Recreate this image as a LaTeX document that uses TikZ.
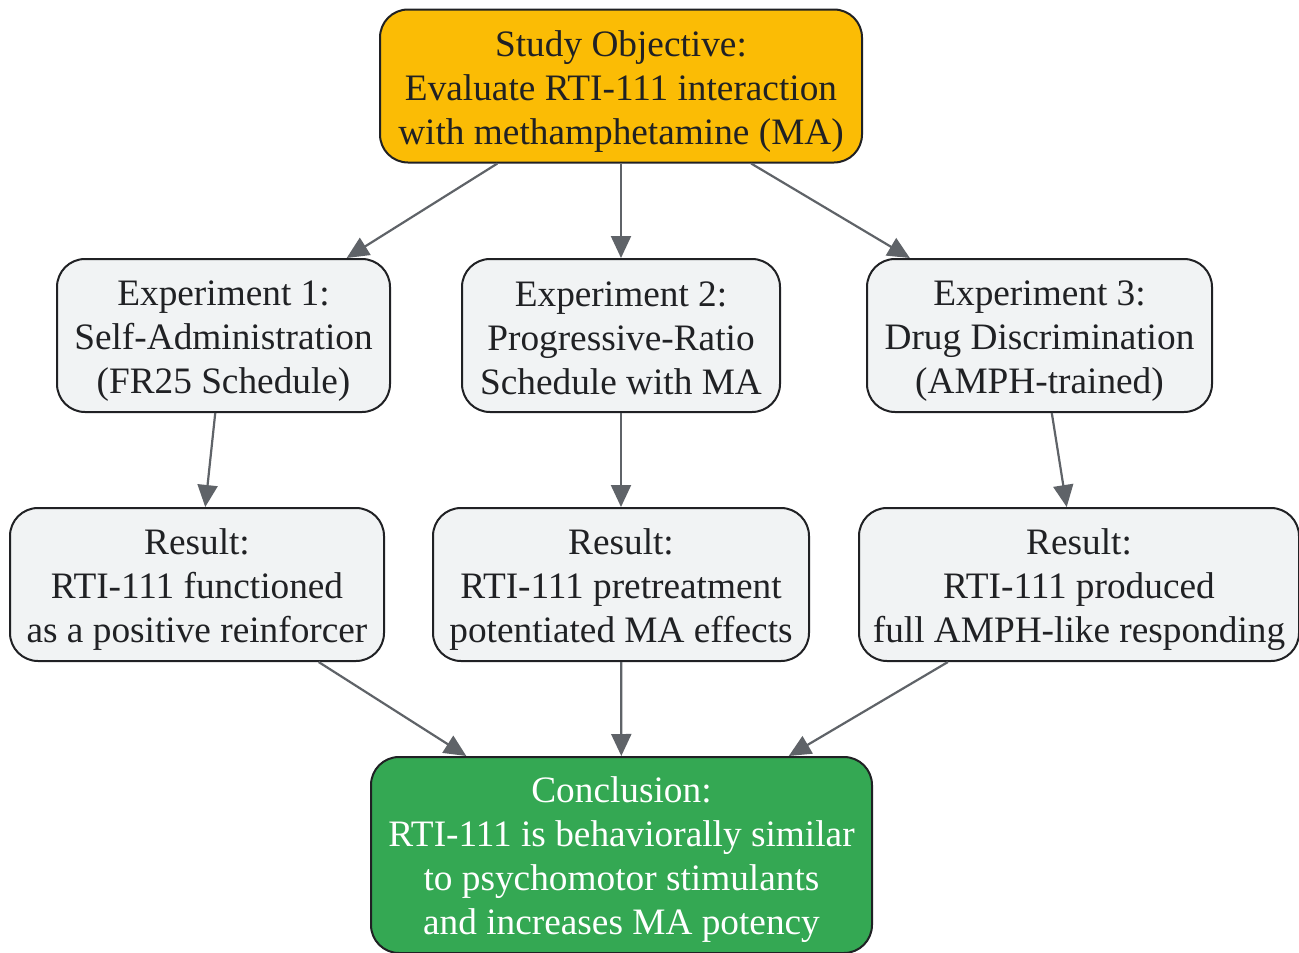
\documentclass[tikz,border=0pt]{standalone}
\usepackage{fontspec}
\setmainfont{Liberation Serif}
\usetikzlibrary{arrows.meta}
\definecolor{amber}{HTML}{FBBC05}
\definecolor{gbox}{HTML}{F1F3F4}
\definecolor{gline}{HTML}{202124}
\definecolor{arr}{HTML}{5F6368}
\definecolor{grn}{HTML}{34A853}
\newcommand\mytop{\rule{0pt}{36pt}}
\newcommand\mybot{\rule[-7pt]{0pt}{7pt}}
\tikzset{
  box/.style={draw=gline, line width=2pt, rounded corners=28pt, fill=gbox, text=gline,
    align=center, inner sep=0pt, font=\fontsize{37.3}{44}\selectfont},
  conn/.style={draw=arr, line width=2.2pt, -{Triangle[length=22pt,width=20pt]}}
}
\begin{document}
\begin{tikzpicture}[x=1pt,y=1pt]
\useasboundingbox (0,0) rectangle (1299,-953);
\node[box, fill=amber, minimum width=482, minimum height=153] (obj) at (621,-86)
  {\mytop Study Objective:\\Evaluate RTI-111 interaction\\with methamphetamine (MA)\mybot};
\node[box, minimum width=333, minimum height=153] (e1) at (223.5,-335.5)
  {\mytop Experiment 1:\\Self-Administration\\(FR25 Schedule)\mybot};
\node[box, minimum width=318, minimum height=153] (e2) at (621,-335.5)
  {\mytop Experiment 2:\\Progressive-Ratio\\Schedule with MA\mybot};
\node[box, minimum width=345, minimum height=153] (e3) at (1039.5,-335.5)
  {\mytop Experiment 3:\\Drug Discrimination\\(AMPH-trained)\mybot};
\node[box, minimum width=374, minimum height=153] (r1) at (197,-584.5)
  {\mytop Result:\\RTI-111 functioned\\as a positive reinforcer\mybot};
\node[box, minimum width=376, minimum height=153] (r2) at (621,-584.5)
  {\mytop Result:\\RTI-111 pretreatment\\potentiated MA effects\mybot};
\node[box, minimum width=440, minimum height=153] (r3) at (1079,-584.5)
  {\mytop Result:\\RTI-111 produced\\full AMPH-like responding\mybot};
\node[box, fill=grn, text=white, minimum width=501, minimum height=196] (c) at (621.5,-855)
  {\mytop Conclusion:\\RTI-111 is behaviorally similar\\to psychomotor stimulants\\and increases MA potency\mybot};
\draw[conn] (obj) -- (e1);
\draw[conn] (obj) -- (e2);
\draw[conn] (obj) -- (e3);
\draw[conn] (e1) -- (r1);
\draw[conn] (e2) -- (r2);
\draw[conn] (e3) -- (r3);
\draw[conn] (r1) -- (c);
\draw[conn] (r2) -- (c);
\draw[conn] (r3) -- (c);
\end{tikzpicture}
\end{document}
